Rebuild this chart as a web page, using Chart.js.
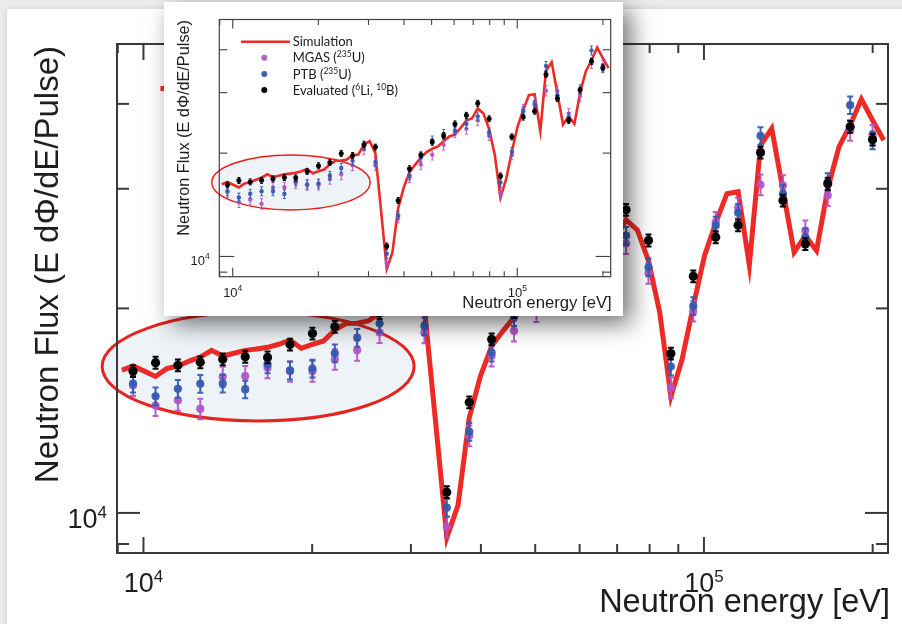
<!DOCTYPE html>
<html>
<head>
<meta charset="utf-8">
<script src="https://cdn.jsdelivr.net/npm/chart.js@4.4.1/dist/chart.umd.min.js"></script>
<style>
  html, body { margin: 0; padding: 0; width: 902px; height: 624px; overflow: hidden; background: #ebebeb; }
  #sheet { position: absolute; left: 7px; top: 9px; width: 920px; height: 640px; background: #ffffff; box-shadow: 0 0 5px rgba(0,0,0,0.12); }
  #main { position: absolute; left: 0; top: 0; filter: blur(0.7px); }
  #insetBox { position: absolute; left: 164px; top: 2px; width: 459px; height: 314px; background: #ffffff;
              box-shadow: 8px 8px 22px rgba(0,0,0,0.55); }
  #inset { position: absolute; left: 0; top: 0; filter: blur(0.25px); }
</style>
</head>
<body>
<div id="sheet"></div>
<canvas id="main" width="902" height="624"></canvas>
<div id="insetBox"><canvas id="inset" width="459" height="314"></canvas></div>

<script>
// Simulated flux (E dPhi/dE per pulse), 50 points per decade
const simEnergy = [
  9152, 9583, 10035, 10507, 11002, 11521, 12064, 12632, 13227, 13850,
  14503, 15186, 15901, 16650, 17435, 18256, 19116, 20016, 20959, 21947,
  22980, 24063, 25196, 26383, 27626, 28927, 30290, 31716, 33210, 34774,
  36412, 38127, 39923, 41804, 43773, 45834, 47993, 50254, 52621, 55099,
  57695, 60412, 63258, 66237, 69357, 72624, 76045, 79626, 83377, 87304,
  91416, 95722, 100231, 104952, 109895, 115071, 120491, 126166, 132109, 138331,
  144847, 151669, 158813, 166293, 174126, 182327, 190915, 199907, 209323
];
const simFlux = [
  16230, 16450, 16170, 15880, 16310, 16450, 16730, 16960, 17350, 17020,
  17180, 17350, 17430, 17530, 17710, 17970, 17470, 17710, 17910, 18590,
  19000, 19020, 19170, 19700, 19800, 21150, 21660, 20000, 13600, 9200,
  10270, 13800, 15900, 17600, 18520, 19400, 20130, 20590, 20910, 21660,
  22360, 22660, 23690, 24880, 25260, 27000, 26090, 23490, 19740, 14840,
  16830, 20170, 23910, 26720, 29500, 29700, 23170, 34760, 36790, 29900,
  24190, 25590, 24320, 30000, 34570, 37210, 40640, 37840, 35370
];

// Measured / evaluated flux, 25 bins per decade
const binEnergy = [
  9580, 10510, 11520, 12630, 13850, 15190, 16650, 18260, 20020, 21950,
  24060, 26380, 28930, 31720, 34770, 38130, 41800, 45830, 50250, 55100,
  60410, 66240, 72620, 79630, 87300, 95720, 104950, 115070, 126170, 138330,
  151670, 166290, 182330, 199910
];
const mgasFlux = [
  15400, 14390, 14650, 14230, 15860, 15900, 16360, 16160, 16170, 16830,
  17350, 18430, 20500, 18420, 9546, 12990, 17020, 18530, 19790, 21150,
  23010, 23530, 24920, 22540, 15290, 19830, 26790, 28120, 30410, 30340,
  26040, 29330, 36580, 35990
];
const ptbFlux = [
  15500, 14850, 15230, 15490, 15500, 15200, 16550, 16210, 16310, 17180,
  18110, 19000, 21050, 18830, 10180, 13170, 17220, 19430, 21770, 22760,
  23270, 24330, 25590, 22990, 16420, 20170, 26480, 27650, 35890, 29490,
  25460, 30690, 39830, 35360
];
const evalFlux = [
  16170, 16640, 16490, 16660, 16830, 16980, 16940, 17690, 18370, 18790,
  19960, 19690, 21150, 20820, 10730, 14550, 18010, 19760, 21530, 22460,
  24330, 25770, 27930, 25180, 17160, 22300, 25460, 26500, 33910, 28830,
  24880, 30520, 37010, 35440
];

// Relative uncertainties of each data set
const mgasErr = 0.035;
const ptbErr = 0.03;
const evalErr = 0.02;

// Axis ranges and tick marks
const xRange = [8970, 213000];
const yRange = [8730, 49000];
const xMajorTicks = [10000, 100000];
const xMinorTicks = [9000, 20000, 30000, 40000, 50000, 60000, 70000, 80000, 90000, 200000];
const yMajorTicks = [10000];
const yMinorTicks = [9000, 20000, 30000, 40000];

// Highlighted low-energy region (energy and flux bounds of the ellipse)
const highlightEnergy = [8440, 30400];
const highlightFlux = [13660, 19750];

const xTitle = 'Neutron energy [eV]';
const yTitle = 'Neutron Flux (E d\u03A6/dE/Pulse)';
const seriesLabels = ['Simulation', 'MGAS (^{235}U)', 'PTB (^{235}U)', 'Evaluated (^{6}Li, ^{10}B)'];

const RED = '#ee2a26';
const MAGENTA = 'rgba(178, 82, 196, 0.92)';
const BLUE = 'rgba(52, 92, 178, 0.95)';
const BLACK = '#050505';

function pairs(xs, ys) { return xs.map((x, i) => ({ x: x, y: ys[i] })); }

function parseRich(s) {
  const out = []; const re = /\^\{([^}]*)\}/g; let last = 0, m;
  while ((m = re.exec(s))) {
    if (m.index > last) out.push({ t: s.slice(last, m.index), sup: false });
    out.push({ t: m[1], sup: true });
    last = re.lastIndex;
  }
  if (last < s.length) out.push({ t: s.slice(last), sup: false });
  return out;
}

function drawRich(ctx, segs, x, y, align, font, supFont, raise) {
  let w = 0;
  segs.forEach(s => { ctx.font = s.sup ? supFont : font; s.w = ctx.measureText(s.t).width; w += s.w; });
  let cx = align === 'center' ? x - w / 2 : (align === 'right' ? x - w : x);
  ctx.textAlign = 'left';
  ctx.textBaseline = 'alphabetic';
  segs.forEach(s => {
    ctx.font = s.sup ? supFont : font;
    ctx.fillText(s.t, cx, s.sup ? y - raise : y);
    cx += s.w;
  });
}

function makeFramePlugin(st) {
  return {
    id: 'rootFrame',
    beforeDatasetsDraw(chart) {
      // highlighted region behind the data
      const ctx = chart.ctx, xs = chart.scales.x, ys = chart.scales.y;
      const l = xs.getPixelForValue(highlightEnergy[0]), r = xs.getPixelForValue(highlightEnergy[1]);
      const t = ys.getPixelForValue(highlightFlux[1]), b = ys.getPixelForValue(highlightFlux[0]);
      ctx.save();
      ctx.beginPath();
      ctx.ellipse((l + r) / 2, (t + b) / 2, (r - l) / 2, (b - t) / 2, 0, 0, Math.PI * 2);
      ctx.fillStyle = '#eef3f8';
      ctx.fill();
      ctx.lineWidth = st.ellW;
      ctx.strokeStyle = '#e8221e';
      ctx.stroke();
      ctx.restore();
    },
    beforeDatasetDraw(chart, args) {
      const ds = chart.data.datasets[args.index];
      if (!ds.relErr) return;
      const ctx = chart.ctx, xs = chart.scales.x, ys = chart.scales.y, a = chart.chartArea;
      ctx.save();
      ctx.beginPath(); ctx.rect(a.left, a.top, a.right - a.left, a.bottom - a.top); ctx.clip();
      ctx.strokeStyle = ds.pointBackgroundColor;
      ctx.lineWidth = st.errW;
      ds.data.forEach(p => {
        const px = xs.getPixelForValue(p.x);
        const y1 = ys.getPixelForValue(p.y * (1 + ds.relErr));
        const y2 = ys.getPixelForValue(p.y * (1 - ds.relErr));
        ctx.beginPath();
        ctx.moveTo(px, y1); ctx.lineTo(px, y2);
        ctx.moveTo(px - st.cap, y1); ctx.lineTo(px + st.cap, y1);
        ctx.moveTo(px - st.cap, y2); ctx.lineTo(px + st.cap, y2);
        ctx.stroke();
      });
      ctx.restore();
    },
    afterDatasetsDraw(chart) {
      const ctx = chart.ctx, xs = chart.scales.x, ys = chart.scales.y, a = chart.chartArea;
      ctx.save();
      // frame
      ctx.strokeStyle = st.frameColor;
      ctx.lineWidth = st.frameW;
      ctx.strokeRect(a.left, a.top, a.right - a.left, a.bottom - a.top);
      // ticks on all four sides
      ctx.lineWidth = st.tickW;
      const seg = (x1, y1, x2, y2) => { ctx.beginPath(); ctx.moveTo(x1, y1); ctx.lineTo(x2, y2); ctx.stroke(); };
      const xTicks = xMajorTicks.map(v => [v, st.xMajLen]).concat(xMinorTicks.map(v => [v, st.xMinLen]));
      xTicks.forEach(([v, len]) => {
        const px = xs.getPixelForValue(v);
        if (px < a.left || px > a.right) return;
        seg(px, a.bottom, px, a.bottom - len);
        seg(px, a.top, px, a.top + len);
      });
      const yTicks = yMajorTicks.map(v => [v, st.yMajLen]).concat(yMinorTicks.map(v => [v, st.yMinLen]));
      yTicks.forEach(([v, len]) => {
        const py = ys.getPixelForValue(v);
        if (py < a.top || py > a.bottom) return;
        seg(a.left, py, a.left + len, py);
        seg(a.right, py, a.right - len, py);
      });
      // decade labels
      ctx.fillStyle = st.textColor;
      const decade = v => [{ t: '10', sup: false }, { t: String(Math.round(Math.log10(v))), sup: true }];
      xMajorTicks.forEach(v => {
        drawRich(ctx, decade(v), xs.getPixelForValue(v), a.bottom + st.xLabelDy, 'center', st.labelFont, st.supFont, st.supRaise);
      });
      yMajorTicks.forEach(v => {
        drawRich(ctx, decade(v), a.left - st.yLabelGap, ys.getPixelForValue(v) + st.yLabelDy, 'right', st.labelFont, st.supFont, st.supRaise);
      });
      // axis titles
      ctx.font = st.xTitleFont;
      ctx.textAlign = 'right';
      ctx.textBaseline = 'alphabetic';
      ctx.fillText(xTitle, a.right + st.xTitleDx, a.bottom + st.xTitleDy);
      ctx.save();
      ctx.font = st.yTitleFont;
      ctx.translate(st.yTitleX, a.top + st.yTitleDy);
      ctx.rotate(-Math.PI / 2);
      ctx.textAlign = 'right';
      ctx.fillText(yTitle, 0, 0);
      ctx.restore();
      // legend
      const k = st.legScale;
      chart.data.datasets.forEach((ds, i) => {
        const ry = a.top + k * (22.2 + 16.1 * i);
        if (i === 0) {
          ctx.strokeStyle = ds.borderColor;
          ctx.lineWidth = ds.borderWidth;
          seg(a.left + k * 21.7, ry, a.left + k * 70.7, ry);
        } else {
          ctx.fillStyle = ds.pointBackgroundColor;
          ctx.beginPath();
          ctx.arc(a.left + k * 45, ry, k * 3, 0, Math.PI * 2);
          ctx.fill();
        }
        ctx.fillStyle = '#1a1a1a';
        drawRich(ctx, parseRich(ds.label), a.left + k * 73.4, ry + k * 4.6, 'left',
                 (k * 13) + 'px Lato', (k * 8.5) + 'px Lato', k * 5);
      });
      ctx.restore();
    }
  };
}

function buildChart(id, st) {
  return new Chart(document.getElementById(id), {
    type: 'scatter',
    data: {
      datasets: [
        { label: seriesLabels[0], data: pairs(simEnergy, simFlux), showLine: true, borderColor: RED,
          borderWidth: st.lineW, pointRadius: 0, tension: 0, fill: false, order: 4,
          pointBackgroundColor: RED, borderJoinStyle: 'miter' },
        { label: seriesLabels[1], data: pairs(binEnergy, mgasFlux), showLine: false, pointRadius: st.rColor,
          pointBackgroundColor: MAGENTA, pointBorderColor: MAGENTA, pointBorderWidth: 0, order: 3, relErr: mgasErr },
        { label: seriesLabels[2], data: pairs(binEnergy, ptbFlux), showLine: false, pointRadius: st.rColor,
          pointBackgroundColor: BLUE, pointBorderColor: BLUE, pointBorderWidth: 0, order: 2, relErr: ptbErr },
        { label: seriesLabels[3], data: pairs(binEnergy, evalFlux), showLine: false, pointRadius: st.rBlack,
          pointBackgroundColor: BLACK, pointBorderColor: BLACK, pointBorderWidth: 0, order: 1, relErr: evalErr }
      ]
    },
    options: {
      responsive: false,
      animation: false,
      events: [],
      layout: { padding: st.pad },
      scales: {
        x: { type: 'logarithmic', min: xRange[0], max: xRange[1], display: false },
        y: { type: 'logarithmic', min: yRange[0], max: yRange[1], display: false }
      },
      plugins: { legend: { display: false }, tooltip: { enabled: false } }
    },
    plugins: [makeFramePlugin(st)]
  });
}

const mainStyle = {
  pad: { left: 117, top: 44, right: 14, bottom: 71 },
  frameW: 2, frameColor: '#3a3a3a', tickW: 2,
  xMajLen: 16, xMinLen: 9, yMajLen: 23, yMinLen: 12,
  textColor: '#1e1e1e',
  labelFont: '27px "Liberation Sans"', supFont: '17px "Liberation Sans"', supRaise: 10,
  xLabelDy: 39, yLabelGap: 10, yLabelDy: 15,
  xTitleFont: '32.5px "Liberation Sans"', xTitleDx: 2, xTitleDy: 59,
  yTitleFont: '33px "Liberation Sans"', yTitleX: 58, yTitleDy: 2,
  lineW: 5, rBlack: 4.6, rColor: 4.1, errW: 2, cap: 3,
  ellW: 3, legScale: 2
};

const insetStyle = {
  pad: { left: 55.3, top: 17.5, right: 12.3, bottom: 39.3 },
  frameW: 1.2, frameColor: '#404040', tickW: 1.1,
  xMajLen: 9, xMinLen: 5.5, yMajLen: 15, yMinLen: 8,
  textColor: '#1e1e1e',
  labelFont: '13px "Liberation Sans"', supFont: '8.5px "Liberation Sans"', supRaise: 6,
  xLabelDy: 20, yLabelGap: 9.5, yLabelDy: 8.5,
  xTitleFont: '16.7px "Liberation Sans"', xTitleDx: 1, xTitleDy: 31.6,
  yTitleFont: '16.3px "Liberation Sans"', yTitleX: 24.5, yTitleDy: 0.5,
  lineW: 2.6, rBlack: 2.5, rColor: 2.2, errW: 1, cap: 1.5,
  ellW: 1.5, legScale: 1
};

buildChart('main', mainStyle);
buildChart('inset', insetStyle);
</script>
</body>
</html>
